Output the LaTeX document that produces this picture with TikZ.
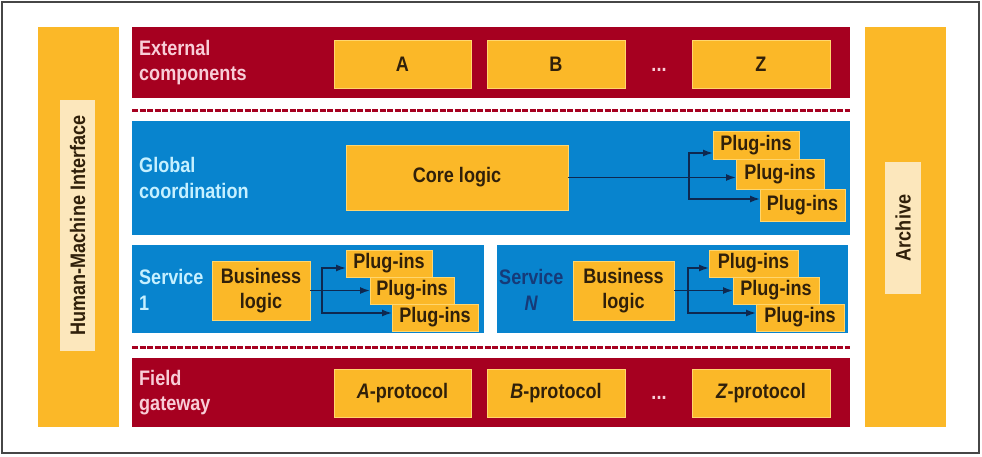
\documentclass[tikz,border=0pt]{standalone}
\usepackage{fontspec}
\setmainfont{Liberation Sans}[FakeStretch=0.86]
\usetikzlibrary{arrows.meta}
\definecolor{crimson}{RGB}{166,0,32}
\definecolor{skyband}{RGB}{8,132,206}
\definecolor{amber}{RGB}{251,184,40}
\definecolor{amberedge}{RGB}{255,214,110}
\definecolor{pale}{RGB}{252,231,188}
\definecolor{pinktext}{RGB}{248,205,215}
\definecolor{cyantext}{RGB}{198,240,255}
\definecolor{navytext}{RGB}{22,58,120}
\definecolor{boxtext}{RGB}{48,32,10}
\definecolor{flowcol}{RGB}{14,40,80}
\definecolor{framecol}{RGB}{70,70,70}
\begin{document}
\begin{tikzpicture}[x=1pt,y=-1pt,
    font=\fontsize{21}{25.5}\selectfont\bfseries,
    band/.style={anchor=north west,inner sep=0pt,outer sep=0pt},
    redband/.style={band,fill=crimson},
    blueband/.style={band,fill=skyband},
    sidebar/.style={band,fill=amber},
    box/.style={anchor=north west,inner sep=0pt,outer sep=0pt,fill=amber,
      draw=amberedge,line width=0.8pt,text=boxtext,align=center},
    inlay/.style={inner sep=0pt,fill=pale,text=boxtext,rotate=90},
    tag/.style={anchor=west,inner sep=0pt,align=left},
    dots/.style={inner sep=0pt,text=pinktext},
    sep/.style={crimson,line width=3pt,dash pattern=on 6pt off 1.5pt},
    flow/.style={flowcol,line width=1.5pt,-{Latex[length=10pt,width=7pt]}}]
  \useasboundingbox (0,0) rectangle (982,456);
  \draw[framecol,line width=2pt] (2,2) rectangle (979,453);

  \node[sidebar,minimum width=81pt,minimum height=400pt] (hmi) at (38,27) {};
  \node[inlay,minimum width=251pt,minimum height=35pt] (hmitext) at (77.5,225.5) {Human-Machine Interface};
  \node[sidebar,minimum width=81pt,minimum height=400pt] (arch) at (865,27) {};
  \node[inlay,minimum width=132pt,minimum height=36pt] (archtext) at (903,228) {Archive};

  \node[redband,minimum width=718pt,minimum height=71pt] (ext) at (132,27) {};
  \node[tag,text=pinktext] (extlabel) at (139,62.5) {External\\components};
  \node[box,minimum width=137pt,minimum height=48pt] (a) at (334,40) {A};
  \node[box,minimum width=138pt,minimum height=48pt] (b) at (487,40) {B};
  \node[dots] (extdots) at (659,70) {...};
  \node[box,minimum width=138pt,minimum height=48pt] (z) at (692,40) {Z};

  \draw[sep] ([yshift=-12pt]ext.south west) -- ([yshift=-12pt]ext.south east);

  \node[blueband,minimum width=718pt,minimum height=114pt] (glob) at (132,121) {};
  \node[tag,text=cyantext] (globlabel) at (139,178) {Global\\coordination};
  \node[box,minimum width=222pt,minimum height=65pt] (core) at (346,145) {Core logic};
  \node[box,minimum width=86pt,minimum height=28pt] (gp1) at (713,131) {Plug-ins};
  \node[box,minimum width=88pt,minimum height=30pt] (gp2) at (736,159) {Plug-ins};
  \node[box,minimum width=85pt,minimum height=32pt] (gp3) at (760,189) {Plug-ins};
  \coordinate (gbr) at (689,177.5);
  \draw[flow] (core.east) -- (core.east -| gp2.west);
  \draw[flow] (gbr) |- ([yshift=6pt]gp1.south west);
  \draw[flow] (gbr) |- ([yshift=-10pt]gp3.north west);

  \node[blueband,minimum width=352pt,minimum height=88pt] (s1) at (132,245) {};
  \node[tag,text=cyantext] (s1label) at (139,290) {Service\\1};
  \node[box,minimum width=98pt,minimum height=59pt] (bl1) at (212,261) {Business\\logic};
  \node[box,minimum width=86pt,minimum height=27pt] (sa1) at (346,250) {Plug-ins};
  \node[box,minimum width=84pt,minimum height=27pt] (sa2) at (370,277) {Plug-ins};
  \node[box,minimum width=86pt,minimum height=27pt] (sa3) at (392,304) {Plug-ins};
  \coordinate (s1br) at (322,290.5);
  \draw[flow] (bl1.east) -- (bl1.east -| sa2.west);
  \draw[flow] (s1br) |- ([yshift=9pt]sa1.south west);
  \draw[flow] (s1br) |- ([yshift=-9pt]sa3.north west);

  \node[blueband,minimum width=351pt,minimum height=88pt] (sn) at (497,245) {};
  \node[tag,text=navytext,align=center] (snlabel) at (499,290) {Service\\\textit{N}};
  \node[box,minimum width=101pt,minimum height=59pt] (bln) at (573,261) {Business\\logic};
  \node[box,minimum width=89pt,minimum height=27pt] (sb1) at (709,250) {Plug-ins};
  \node[box,minimum width=86pt,minimum height=27pt] (sb2) at (733,277) {Plug-ins};
  \node[box,minimum width=88pt,minimum height=27pt] (sb3) at (756,304) {Plug-ins};
  \coordinate (snbr) at (688,290.5);
  \draw[flow] (bln.east) -- (bln.east -| sb2.west);
  \draw[flow] (snbr) |- ([yshift=9pt]sb1.south west);
  \draw[flow] (snbr) |- ([yshift=-9pt]sb3.north west);

  \node[redband,minimum width=718pt,minimum height=69pt] (field) at (132,358) {};
  \draw[sep] ([yshift=11pt]field.north west) -- ([yshift=11pt]field.north east);
  \node[tag,text=pinktext] (fieldlabel) at (139,392.5) {Field\\gateway};
  \node[box,minimum width=137pt,minimum height=48pt] (ap) at (334,369) {\textit{A}-protocol};
  \node[box,minimum width=138pt,minimum height=48pt] (bp) at (487,369) {\textit{B}-protocol};
  \node[dots] (fielddots) at (659,398) {...};
  \node[box,minimum width=138pt,minimum height=48pt] (zp) at (692,369) {\textit{Z}-protocol};
\end{tikzpicture}
\end{document}
